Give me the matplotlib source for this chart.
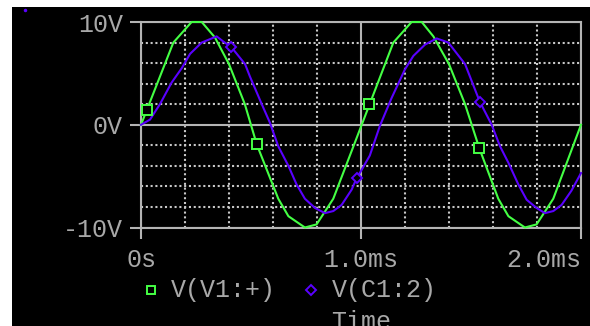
import matplotlib
matplotlib.use("Agg")
import matplotlib.pyplot as plt
from matplotlib.patches import Rectangle
from matplotlib.lines import Line2D

# Transient simulation traces (time in ms, voltage in V)
t_v1 = [0.000, 0.147, 0.230, 0.276, 0.336, 0.400, 0.472, 0.526, 0.624, 0.670,
        0.745, 0.798, 0.874, 1.147, 1.230, 1.276, 1.329, 1.400, 1.473, 1.538,
        1.624, 1.670, 1.745, 1.798, 1.874, 2.000]
v_v1 = [0.0, 8.0, 10.0, 10.0, 8.5, 5.9, 2.0, -1.9, -7.2, -8.9,
        -10.0, -9.7, -7.2, 8.0, 10.0, 10.0, 8.6, 5.9, 2.0, -2.3,
        -7.2, -8.9, -10.0, -9.7, -7.2, 0.0]

t_c1 = [0.000, 0.041, 0.086, 0.139, 0.185, 0.223, 0.276, 0.344, 0.374, 0.409,
        0.473, 0.495, 0.549, 0.586, 0.624, 0.670, 0.707, 0.745, 0.791, 0.836,
        0.874, 0.912, 0.958, 0.980, 1.000, 1.040, 1.086, 1.139, 1.200, 1.238,
        1.291, 1.344, 1.397, 1.473, 1.495, 1.526, 1.541, 1.594, 1.632, 1.670,
        1.715, 1.753, 1.798, 1.836, 1.874, 1.912, 1.957, 2.000]
v_c1 = [0.0, 0.5, 2.0, 4.1, 5.5, 6.9, 8.0, 8.6, 8.1, 7.6,
        5.9, 4.7, 2.0, 0.2, -2.1, -4.0, -5.8, -7.2, -8.1, -8.6,
        -8.4, -7.8, -6.3, -5.2, -4.5, -3.0, -0.1, 2.6, 5.4, 6.7,
        7.8, 8.4, 8.0, 5.9, 4.7, 3.0, 2.2, 0.0, -2.1, -3.7,
        -5.8, -7.3, -8.1, -8.6, -8.4, -7.8, -6.4, -4.7]

# Trace symbols
mark_t_v1 = [0.028, 0.526, 1.036, 1.538]
mark_v_v1 = [1.4, -1.9, 2.0, -2.3]
mark_t_c1 = [0.409, 0.980, 1.541]
mark_v_c1 = [7.6, -5.2, 2.2]

x_ticks = [0.0, 1.0, 2.0]
x_labels = ["0s", "1.0ms", "2.0ms"]
y_ticks = [-10, 0, 10]
y_labels = ["-10V", "0V", "10V"]
x_minor = [0.2, 0.4, 0.6, 0.8, 1.2, 1.4, 1.6, 1.8]
y_minor = [-8, -6, -4, -2, 2, 4, 6, 8]

series_names = ["V(V1:+)", "V(C1:2)"]

GREEN = "#44ff44"
BLUE = "#5a00ff"
GRAY = "#b4b4b4"
TEXT = "#a8a8a8"
FONT = ["Liberation Mono", "DejaVu Sans Mono"]
FS = 18

W, H = 590, 326
fig = plt.figure(figsize=(W / 100, H / 100), dpi=100)
fig.patch.set_facecolor("white")
fig.patches.append(Rectangle((12 / W, 0), (W - 12) / W, (H - 7) / H,
                             transform=fig.transFigure, facecolor="black",
                             edgecolor="none", zorder=-10))
fig.add_artist(Line2D([25 / W], [1 - 10 / H], marker="o", markersize=1.5,
                      color=BLUE, linestyle="none"))

def px(x, y):
    return x / W, 1 - y / H

left, top = px(141, 22)
right, bottom = px(581, 227.5)
ax = fig.add_axes([left, bottom, right - left, top - bottom])
ax.set_facecolor("black")
ax.set_xlim(0, 2)
ax.set_ylim(-10, 10)

for s in ax.spines.values():
    s.set_color(GRAY)
    s.set_linewidth(1.5)

ax.set_xticks(x_ticks)
ax.set_xticklabels(x_labels)
ax.set_yticks(y_ticks)
ax.set_yticklabels(y_labels)
ax.set_xticks(x_minor, minor=True)
ax.set_yticks(y_minor, minor=True)
ax.tick_params(which="major", direction="out", length=8, width=1.5,
               color=GRAY, labelcolor=TEXT, labelsize=FS)
ax.tick_params(axis="x", which="major", pad=7)
ax.tick_params(axis="y", which="major", pad=5)
ax.tick_params(which="minor", length=0)
for lab in ax.get_xticklabels() + ax.get_yticklabels():
    lab.set_family(FONT)
ax.get_xticklabels()[-1].set_horizontalalignment("right")

ax.grid(which="major", color=GRAY, linewidth=1.5, linestyle="-", zorder=1)
ax.grid(which="minor", color="#c8c8c8", linewidth=1.5,
        linestyle=(0, (1, 1.3)), zorder=1)
ax.set_axisbelow(True)

ax.plot(t_v1, v_v1, color=GREEN, linewidth=1.5, zorder=3, clip_on=False)
ax.plot(t_c1, v_c1, color=BLUE, linewidth=1.5, zorder=3, clip_on=False)
ax.plot(mark_t_v1, mark_v_v1, linestyle="none", marker="s", markersize=6.5,
        markerfacecolor="black", markeredgecolor=GREEN, markeredgewidth=1.4,
        zorder=4, clip_on=False)
ax.plot(mark_t_c1, mark_v_c1, linestyle="none", marker="D", markersize=5.5,
        markerfacecolor="black", markeredgecolor=BLUE, markeredgewidth=1.4,
        zorder=4, clip_on=False)

# Legend row under the axis
fig.add_artist(Line2D([151 / W], [1 - 290 / H], marker="s", markersize=6,
                      markerfacecolor="black", markeredgecolor=GREEN,
                      markeredgewidth=1.4, linestyle="none"))
fig.text(171 / W, 1 - 290 / H, series_names[0], color=TEXT, fontsize=FS,
         family=FONT, ha="left", va="center")
fig.add_artist(Line2D([311 / W], [1 - 290 / H], marker="D", markersize=5,
                      markerfacecolor="black", markeredgecolor=BLUE,
                      markeredgewidth=1.4, linestyle="none"))
fig.text(332 / W, 1 - 290 / H, series_names[1], color=TEXT, fontsize=FS,
         family=FONT, ha="left", va="center")
fig.text(331 / W, 1 - 310 / H, "Time", color=TEXT, fontsize=FS,
         family=FONT, ha="left", va="top")

fig.savefig("out.png", dpi=100, facecolor=fig.get_facecolor())
